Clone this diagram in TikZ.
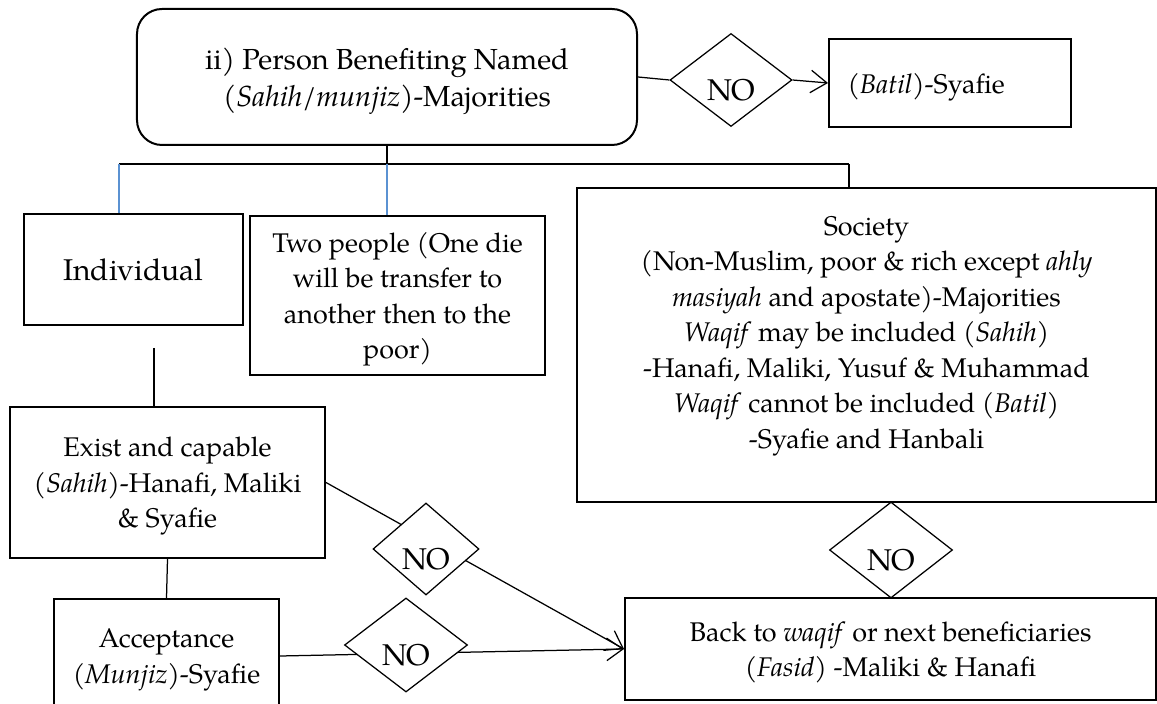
\documentclass[tikz,border=0pt]{standalone}
\usepackage{fontspec}
\setmainfont{TeX Gyre Pagella}
\usetikzlibrary{shapes.geometric, arrows.meta}
\definecolor{busblue}{RGB}{91,146,210}

\begin{document}
\begin{tikzpicture}[
    x=0.4pt, y=-0.4pt,
    font=\fontsize{10.8}{14.2}\selectfont,
    box/.style={rectangle, draw, line width=0.8pt, inner sep=2pt, align=center, text depth=-1.5pt},
    decision/.style={diamond, draw, line width=0.5pt, fill=white, inner sep=0pt, font=\fontsize{12}{14}\selectfont},
    link/.style={line width=0.5pt},
    arrow/.style={-{Straight Barb[length=6.5pt, width=9pt]}, line width=0.5pt},
]
\useasboundingbox (0,0) rectangle (1157,704);

\node[box, rounded corners=10pt, minimum width=200pt, minimum height=54.4pt, font=\fontsize{11.6}{15}\selectfont] (named) at (387,77) {ii) Person Benefiting Named\\(\textit{Sahih}/\textit{munjiz})-Majorities};
\node[decision, minimum width=48.8pt, minimum height=37.2pt] (notop) at (731,80) {\raisebox{-8.3pt}[0pt][0pt]{NO}};
\node[box, minimum width=96.8pt, minimum height=35.2pt, text width=82pt, align=left] (batil) at (950,83) {(\textit{Batil})-Syafie};

\node[box, minimum width=87.6pt, minimum height=44.4pt, font=\fontsize{12}{14}\selectfont] (individual) at (133.5,269.5) {Individual};
\node[box, minimum width=118pt, minimum height=63.6pt] (twopeople) at (397.5,295.5) {Two people (One die\\will be transfer to\\another then to the\\poor)};
\node[box, minimum width=231.6pt, minimum height=125.6pt] (society) at (866.5,345) {};
\node[align=center] (societytxt) at (866.5,336) {Society\\(Non-Muslim, poor \& rich except \textit{ahly}\\\textit{masiyah} and apostate)-Majorities\\\textit{Waqif} may be included (\textit{Sahih})\\-Hanafi, Maliki, Yusuf \& Muhammad\\\textit{Waqif} cannot be included (\textit{Batil})\\-Syafie and Hanbali};

\node[box, minimum width=126pt, minimum height=60.4pt] (exist) at (167.5,482.5) {Exist and capable\\(\textit{Sahih})-Hanafi, Maliki\\\& Syafie};
\node[box, minimum width=90pt, minimum height=45.6pt] (accept) at (166.5,656) {Acceptance\\(\textit{Munjiz})-Syafie};
\node[box, minimum width=212.4pt, minimum height=40.8pt] (back) at (890.5,649) {Back to \textit{waqif} or next beneficiaries\\(\textit{Fasid}) -Maliki \& Hanafi};

% branches under the top box
\coordinate (busL) at (119,164);
\coordinate (busR) at (849,164);
\draw[link] (busL) -- (busR);
\draw[link] (named.south) -- (named.south |- busL);
\draw[link, busblue] (busL) -- (busL |- individual.north);
\draw[link, busblue] (named.south |- busL) -- (named.south |- twopeople.north);
\draw[link] (busR) -- (busR |- society.north);

\draw[link] (named.east) -- (notop.west);
\draw[arrow] (notop.east) -- (batil.west);

\draw[link, shorten <=8.8pt] ([xshift=8.2pt]individual.south) -- ([xshift=8.2pt]individual.south |- exist.north);
\draw[link] (exist.south) -- (accept.north);

\draw[arrow] (exist.east) -- (back.west);
\draw[arrow] (accept.east) -- (back.west);

\node[decision, minimum width=42.4pt, minimum height=36.8pt] (noexist) at (426,549) {\raisebox{-8.3pt}[0pt][0pt]{NO}};
\node[decision, minimum width=49.2pt, minimum height=37.6pt] (noaccept) at (406,645) {\raisebox{-8.3pt}[0pt][0pt]{NO}};
\node[decision, minimum width=49.2pt, minimum height=38.4pt] (nosociety) at (891,550) {\raisebox{-8.3pt}[0pt][0pt]{NO}};

\end{tikzpicture}
\end{document}
